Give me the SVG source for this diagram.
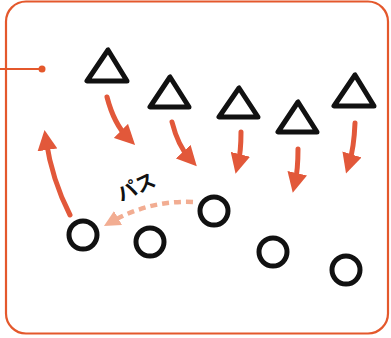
<svg xmlns="http://www.w3.org/2000/svg" width="391" height="338" viewBox="0 0 391 338">
<style>
.tri{fill:none;stroke:#111;stroke-width:5;stroke-linejoin:round}
.cir{fill:none;stroke:#111;stroke-width:5}
.arr{fill:none;stroke:#e2583a;stroke-width:5;stroke-linecap:round}
.pass{fill:none;stroke:#f2ad92;stroke-width:4.5;stroke-dasharray:7 5}
</style>
<defs>
<marker id="ah" viewBox="0 0 10 10" refX="5" refY="5" markerWidth="4" markerHeight="4" orient="auto" markerUnits="strokeWidth"><path d="M0,0 L10,5 L0,10 Z" fill="#e2583a"/></marker>
<marker id="ahp" viewBox="0 0 10 10" refX="5" refY="5" markerWidth="3.6" markerHeight="3.6" orient="auto" markerUnits="strokeWidth"><path d="M0,0 L10,5 L0,10 Z" fill="#f2ad92"/></marker>
</defs>
<rect x="6" y="1.5" width="382" height="332" rx="20" fill="#fff" stroke="#e4582c" stroke-width="2.2"/>
<g id="leader"><line x1="0" y1="69" x2="42" y2="69" stroke="#e4582c" stroke-width="2"/><circle cx="42" cy="69" r="3.5" fill="#e4582c"/></g>
<g id="t1"><polygon class="tri" points="108,50 87,81 127,81"/></g>
<g id="t2"><polygon class="tri" points="170,77 150,107 189,107"/></g>
<g id="t3"><polygon class="tri" points="239,88 219,117 258,117"/></g>
<g id="t4"><polygon class="tri" points="298,102 278,132 317,132"/></g>
<g id="t5"><polygon class="tri" points="355,75 334,106 374,106"/></g>
<g id="c1"><circle class="cir" cx="83" cy="235" r="14"/></g>
<g id="c2"><circle class="cir" cx="150" cy="242" r="14"/></g>
<g id="c3"><circle class="cir" cx="214" cy="211" r="14"/></g>
<g id="c4"><circle class="cir" cx="273" cy="252" r="14"/></g>
<g id="c5"><circle class="cir" cx="346" cy="270" r="14"/></g>
<g id="connectors">
<path class="arr" d="M107,97 Q114,124 128,138" marker-end="url(#ah)"/>
<path class="arr" d="M172,122 Q178,146 190,159" marker-end="url(#ah)"/>
<path class="arr" d="M241,132 Q241,152 238,164" marker-end="url(#ah)"/>
<path class="arr" d="M298,149 Q298,170 295,183" marker-end="url(#ah)"/>
<path class="arr" d="M355,123 Q354,148 349,164" marker-end="url(#ah)"/>
<path class="arr" d="M70,215 Q52,180 46,140" marker-end="url(#ah)"/>
<path class="pass" d="M193,202 Q150,200 111,222" marker-end="url(#ahp)"/>
</g>
<g id="label"><text x="0" y="0" transform="translate(121,202) rotate(-25)" font-family="'Noto Sans CJK JP',sans-serif" font-size="20" font-weight="bold" fill="#111">パス</text></g>
</svg>
